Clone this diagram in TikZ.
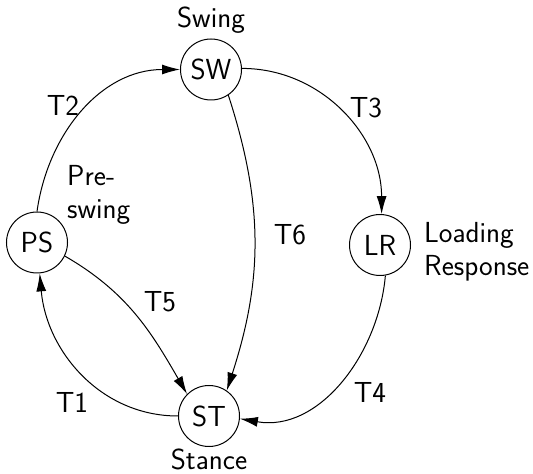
\documentclass[tikz,border=0pt]{standalone}
\usetikzlibrary{arrows.meta}
\begin{document}
\begin{tikzpicture}[x=1pt,y=1pt,
  every node/.style={font=\sffamily\fontsize{29}{33}\selectfont},
  state/.style={circle,draw,line width=1pt,minimum size=61pt,inner sep=0pt},
  conn/.style={line width=1pt,-{Latex[length=18pt,width=10pt]}},
  lab/.style={inner sep=0pt}]
\useasboundingbox (0,0) rectangle (533,474);
\node[state] (SW) at (211,404.5) {SW};
\node[state] (PS) at (37,231.5) {PS};
\node[state] (LR) at (380,229) {LR};
\node[state] (ST) at (209,58) {ST};
\node[lab,anchor=base] (swing) at (211,446) {Swing};
\node[lab,align=left,anchor=west] (preswing) at (67,279) {Pre-\\swing};
\node[lab,align=left,anchor=west] (loading) at (424,222) {Loading\\Response};
\node[lab,anchor=base] (stance) at (209,4.5) {Stance};
\draw[conn] (PS.90) to[out=82,in=180] (SW.180);
\draw[conn] (SW.2) to[out=0,in=90] (LR.87);
\draw[conn] (SW.-56) to[out=-72,in=72] (ST.55);
\draw[conn] (PS.-26) to[out=-30,in=120] (ST.135);
\draw[conn] (ST.180) to[out=180,in=-85] (PS.-85);
\draw[conn] (LR.-80) to[out=-95,in=-10] (ST.-5);
\node[lab] (t2) at (63,369) {T2};
\node[lab] (t3) at (366,366) {T3};
\node[lab] (t6) at (290,239) {T6};
\node[lab] (t5) at (160,172) {T5};
\node[lab] (t1) at (72,72) {T1};
\node[lab] (t4) at (370,82) {T4};
\end{tikzpicture}
\end{document}
